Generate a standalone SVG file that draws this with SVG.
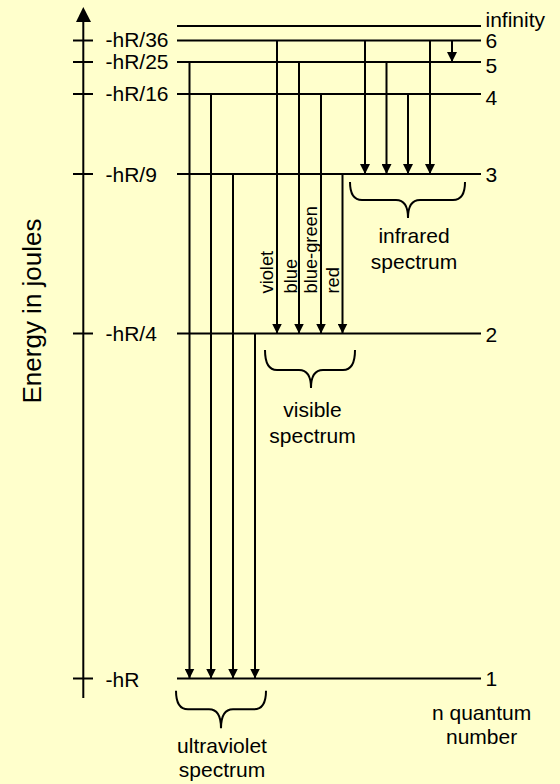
<svg xmlns="http://www.w3.org/2000/svg" width="560" height="784" viewBox="0 0 560 784">
<style>
  text { font-family: "Liberation Sans", Arial, sans-serif; fill: #000; }
  .lbl { font-size: 21px; }
  .mid { text-anchor: middle; }
  .col { font-size: 18.3px; }
  .lvl { stroke: #000; stroke-width: 2; fill: none; }
  .tick { stroke: #000; stroke-width: 2; }
  .tr { stroke: #000; stroke-width: 2; fill: none; marker-end: url(#ah); }
  .brace { stroke: #000; stroke-width: 2; fill: none; }
</style>
<defs>
  <marker id="ah" markerUnits="userSpaceOnUse" markerWidth="10" markerHeight="10" viewBox="0 0 10 10" refX="10" refY="5" orient="auto">
    <path d="M0,0 L10,5 L0,10 Z" fill="#000"/>
  </marker>
</defs>
<rect x="0" y="0" width="560" height="784" fill="#FFFFCC"/>

<g id="axis">
  <line x1="83.3" y1="20" x2="83.3" y2="698" stroke="#000" stroke-width="2"/>
  <polygon points="83.3,7 76,22 91,22" fill="#000"/>
  <text transform="translate(40.5,311) rotate(-90)" class="mid" font-size="26">Energy in joules</text>
</g>

<g id="level-inf">
  <line class="lvl" x1="177" y1="26" x2="481" y2="26"/>
  <text class="lbl" x="485.5" y="27">infinity</text>
</g>
<g id="level-6">
  <line class="tick" x1="73" y1="40.5" x2="93" y2="40.5"/>
  <line class="lvl" x1="177" y1="40.5" x2="481" y2="40.5"/>
  <text class="lbl" x="105.5" y="46.5">-hR/36</text>
  <text class="lbl" x="485.5" y="48">6</text>
</g>
<g id="level-5">
  <line class="tick" x1="73" y1="62" x2="93" y2="62"/>
  <line class="lvl" x1="177" y1="62" x2="481" y2="62"/>
  <text class="lbl" x="105.5" y="68.5">-hR/25</text>
  <text class="lbl" x="485.5" y="72.5">5</text>
</g>
<g id="level-4">
  <line class="tick" x1="73" y1="94" x2="93" y2="94"/>
  <line class="lvl" x1="177" y1="94" x2="481" y2="94"/>
  <text class="lbl" x="105.5" y="100.5">-hR/16</text>
  <text class="lbl" x="485.5" y="105">4</text>
</g>
<g id="level-3">
  <line class="tick" x1="73" y1="174" x2="93" y2="174"/>
  <line class="lvl" x1="177" y1="174" x2="481" y2="174"/>
  <text class="lbl" x="105.5" y="181.5">-hR/9</text>
  <text class="lbl" x="485.5" y="182">3</text>
</g>
<g id="level-2">
  <line class="tick" x1="73" y1="333.5" x2="93" y2="333.5"/>
  <line class="lvl" x1="177" y1="333.5" x2="481" y2="333.5"/>
  <text class="lbl" x="105.5" y="341">-hR/4</text>
  <text class="lbl" x="485.5" y="341.5">2</text>
</g>
<g id="level-1">
  <line class="tick" x1="73" y1="678.5" x2="93" y2="678.5"/>
  <line class="lvl" x1="177" y1="678.5" x2="481" y2="678.5"/>
  <text class="lbl" x="105.5" y="686.5">-hR</text>
  <text class="lbl" x="485.5" y="685.5">1</text>
</g>

<g id="connectors">
  <line class="tr" x1="189.5" y1="62" x2="189.5" y2="678.5"/>
  <line class="tr" x1="211" y1="94" x2="211" y2="678.5"/>
  <line class="tr" x1="233" y1="174" x2="233" y2="678.5"/>
  <line class="tr" x1="255" y1="333.5" x2="255" y2="678.5"/>
  <line class="tr" x1="277" y1="40.5" x2="277" y2="333.5"/>
  <line class="tr" x1="299" y1="62" x2="299" y2="333.5"/>
  <line class="tr" x1="321" y1="94" x2="321" y2="333.5"/>
  <line class="tr" x1="342.5" y1="174" x2="342.5" y2="333.5"/>
  <line class="tr" x1="365" y1="40.5" x2="365" y2="174"/>
  <line class="tr" x1="386.5" y1="62" x2="386.5" y2="174"/>
  <line class="tr" x1="408" y1="94" x2="408" y2="174"/>
  <line class="tr" x1="430" y1="40.5" x2="430" y2="174"/>
  <line class="tr" x1="452" y1="40.5" x2="452" y2="62"/>
</g>

<g id="color-labels">
  <text class="col" transform="translate(273.3,293.5) rotate(-90)">violet</text>
  <text class="col" transform="translate(297.3,293.5) rotate(-90)">blue</text>
  <text class="col" transform="translate(317.3,293.5) rotate(-90)">blue-green</text>
  <text class="col" transform="translate(338.5,293.5) rotate(-90)">red</text>
</g>

<g id="infrared">
  <path class="brace" d="M350,182 Q350,200 362,200 L396,200 Q408,200 408,218 Q408,200 420,200 L453,200 Q465,200 465,182"/>
  <text class="lbl mid" x="414" y="243.3">infrared</text>
  <text class="lbl mid" x="414" y="268.7">spectrum</text>
</g>
<g id="visible">
  <path class="brace" d="M265,350 Q265,370 277,370 L299,370 Q311,370 311,388 Q311,370 323,370 L343,370 Q355,370 355,350"/>
  <text class="lbl mid" x="312.5" y="417.3">visible</text>
  <text class="lbl mid" x="312.5" y="442.7">spectrum</text>
</g>
<g id="ultraviolet">
  <path class="brace" d="M176,690.7 Q176,709.3 188,709.3 L209,709.3 Q221,709.3 221,728.3 Q221,709.3 233,709.3 L254,709.3 Q266,709.3 266,690.7"/>
  <text class="lbl mid" x="222" y="753.3">ultraviolet</text>
  <text class="lbl mid" x="222" y="776.7">spectrum</text>
</g>
<g id="quantum-label">
  <text class="lbl mid" x="481.6" y="720">n quantum</text>
  <text class="lbl mid" x="481.6" y="744">number</text>
</g>
</svg>
